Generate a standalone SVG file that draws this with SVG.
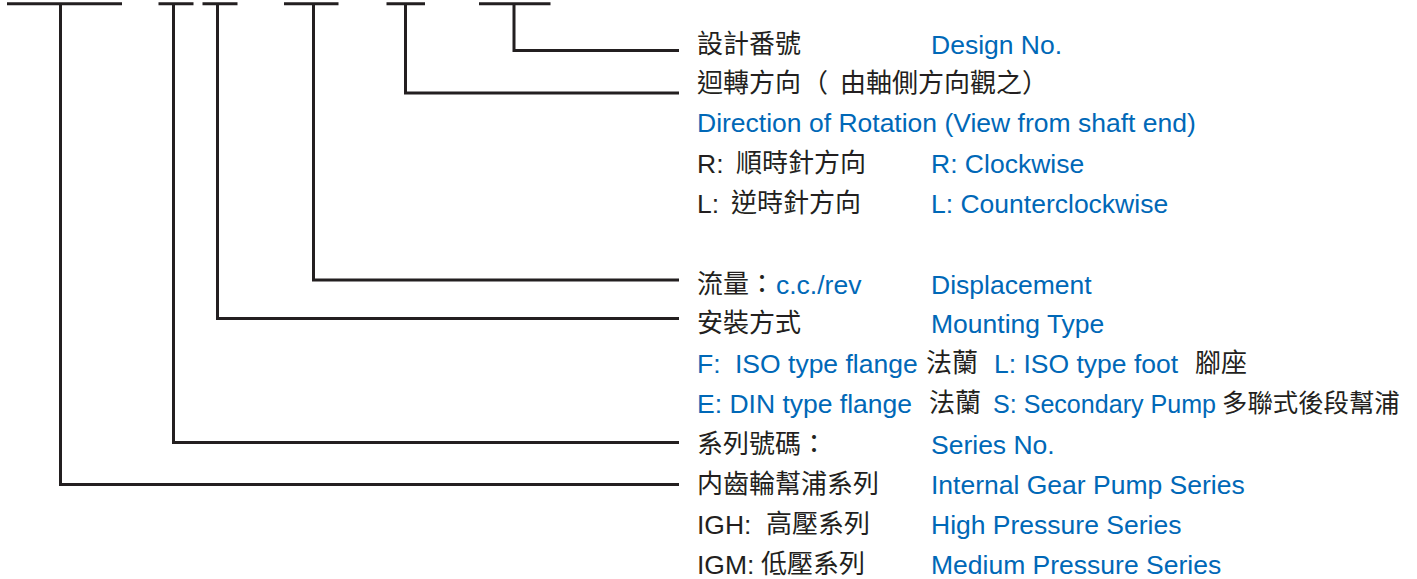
<svg xmlns="http://www.w3.org/2000/svg" width="1417" height="579" viewBox="0 0 1417 579">
<style>
.ln{fill:none;stroke:#231f20;stroke-width:3;stroke-linejoin:miter}
.k{fill:#231f20;font-family:"Noto Sans CJK TC","Liberation Sans",sans-serif;font-size:26px}
.kl{fill:#231f20;font-family:"Liberation Sans","Noto Sans CJK TC",sans-serif;font-size:26.5px}
.b{fill:#0068b7;font-family:"Liberation Sans","Noto Sans CJK TC",sans-serif;font-size:26.5px}
</style>
<rect width="1417" height="579" fill="#ffffff"/>
<g id="code">
<g id="seg-series-type"><path class="ln" d="M7 3.7H122"/></g>
<g id="seg-series-no"><path class="ln" d="M158.5 3.7H193.5"/></g>
<g id="seg-mounting"><path class="ln" d="M202.5 3.7H237.5"/></g>
<g id="seg-displacement"><path class="ln" d="M284 3.7H338.5"/></g>
<g id="seg-rotation"><path class="ln" d="M386.5 3.7H425"/></g>
<g id="seg-design"><path class="ln" d="M479 3.7H550.5"/></g>
</g>
<g id="connectors">
<path class="ln" d="M60.5 3.7V484.5H679"/>
<path class="ln" d="M173.5 3.7V442.5H679"/>
<path class="ln" d="M217.5 3.7V318.5H679"/>
<path class="ln" d="M313.5 3.7V280H679"/>
<path class="ln" d="M405.5 3.7V93H679"/>
<path class="ln" d="M514 3.7V50.5H679"/>
</g>
<g id="label-design">
<text class="k" x="697" y="52.5">設計番號</text>
<text class="b" x="931" y="54">Design No.</text>
</g>
<g id="label-rotation">
<text class="k" x="697" y="91.5">迴轉方向</text>
<text class="k" x="802" y="91.5">（</text>
<text class="k" x="840" y="91.5">由軸側方向觀之）</text>
<text class="b" x="697" y="132">Direction of Rotation (View from shaft end)</text>
<text class="kl" x="697" y="173">R:</text>
<text class="k" x="736" y="171.5">順時針方向</text>
<text class="b" x="931" y="173">R: Clockwise</text>
<text class="kl" x="697" y="213">L:</text>
<text class="k" x="731" y="211.5">逆時針方向</text>
<text class="b" x="931" y="213">L: Counterclockwise</text>
</g>
<g id="label-displacement">
<text class="k" x="697" y="292.5">流量：</text>
<text class="b" x="776" y="294">c.c./rev</text>
<text class="b" x="931" y="294">Displacement</text>
</g>
<g id="label-mounting">
<text class="k" x="697" y="331.5">安裝方式</text>
<text class="b" x="931" y="333">Mounting Type</text>
<text class="b" x="697" y="373">F:</text>
<text class="b" x="735" y="373">ISO type flange</text>
<text class="k" x="926" y="371.5">法蘭</text>
<text class="b" x="994" y="373">L: ISO type foot</text>
<text class="k" x="1195" y="371.5">腳座</text>
<text class="b" x="697" y="413">E: DIN type flange</text>
<text class="k" x="929" y="411.5">法蘭</text>
<text class="b" x="993" y="413" textLength="223" lengthAdjust="spacingAndGlyphs">S: Secondary Pump</text>
<text class="k" x="1222" y="411.5" style="font-size:25.4px">多聯式後段幫浦</text>
</g>
<g id="label-series-no">
<text class="k" x="697" y="452.5">系列號碼：</text>
<text class="b" x="931" y="454">Series No.</text>
</g>
<g id="label-series-type">
<text class="k" x="697" y="492.5">内齒輪幫浦系列</text>
<text class="b" x="931" y="494">Internal Gear Pump Series</text>
<text class="kl" x="697" y="534">IGH:</text>
<text class="k" x="766" y="532.5">高壓系列</text>
<text class="b" x="931" y="534">High Pressure Series</text>
<text class="kl" x="697" y="574">IGM:</text>
<text class="k" x="761" y="572.5">低壓系列</text>
<text class="b" x="931" y="574">Medium Pressure Series</text>
</g>
</svg>
